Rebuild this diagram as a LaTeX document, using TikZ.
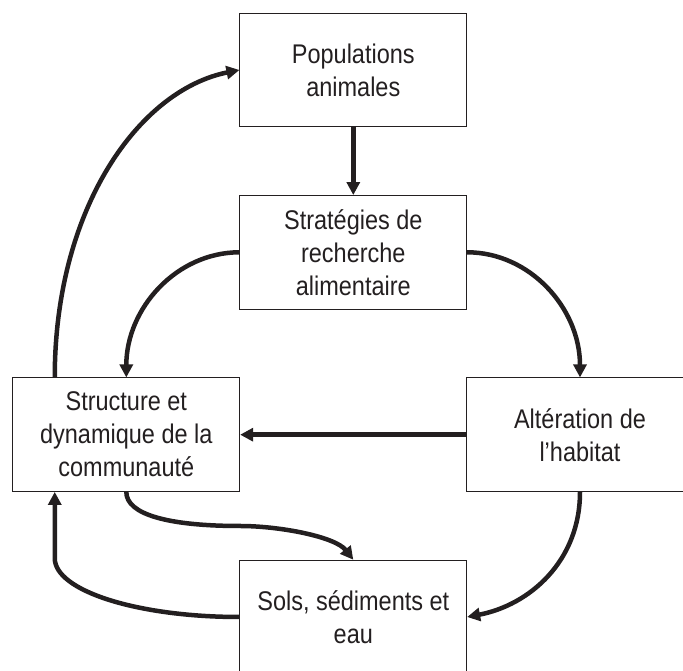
\documentclass[tikz,border=0pt]{standalone}
\usepackage{fontspec}
\setmainfont[FakeStretch=0.87]{Liberation Sans}
\usetikzlibrary{arrows.meta,calc}
\definecolor{ink}{HTML}{231F20}
\begin{document}
\begin{tikzpicture}[x=1pt,y=1pt,
  box/.style={draw=ink, line width=1pt, minimum width=226.7pt, minimum height=113.5pt,
    inner sep=0pt, align=center, text=ink, font=\fontsize{27}{33}\selectfont},
  arr/.style={draw=ink, line width=4.5pt, -{Triangle[length=13pt,width=13pt]}}]
\useasboundingbox (0,0) rectangle (683,671);
\clip (0,0) rectangle (683,671);
\node[box] (pop)    at (353.3,601)   {Populations\\animales};
\node[box] (strat)  at (353.3,418.7) {Stratégies de\\recherche\\alimentaire};
\node[box] (struct) at (126.3,236.3) {Structure et\\dynamique de la\\communauté};
\node[box] (alt)    at (580,236.3)   {Altération de\\l’habitat};
\node[box] (sols)   at (353.3,54)    {Sols, sédiments et\\eau};
\coordinate (sbend) at ($(struct.south west)+(42.3,-66.3)$);
\coordinate (sup1) at ($(struct.north west)+(42.3,0)$);
\coordinate (sdn1) at ($(struct.south west)+(42.3,0)$);
\coordinate (mid) at (240,145);
\draw[arr] (pop.south) -- (strat.north);
\draw[arr] (strat.west) .. controls +(-62.8,0) and +(0,69.2) .. (struct.north);
\draw[arr] (strat.east) .. controls +(62.8,0) and +(0,69.2) .. (alt.north);
\draw[arr] (alt.west) -- (struct.east);
\draw[arr] (sup1) .. controls +(0,169.9) and +(-100,-20) .. (pop.west);
\draw[arr] (struct.south) .. controls +(0,-23) and +(-70,0) .. (mid)
  .. controls +(40,0) and +(-18,23) .. (sols.north);
\draw[arr] (sols.west) .. controls +(-102,0) and +(0,-32.6) .. (sbend) -- (sdn1);
\draw[arr] (alt.south) .. controls +(0,-69.2) and +(62.5,12) .. (sols.east);
\end{tikzpicture}
\end{document}
